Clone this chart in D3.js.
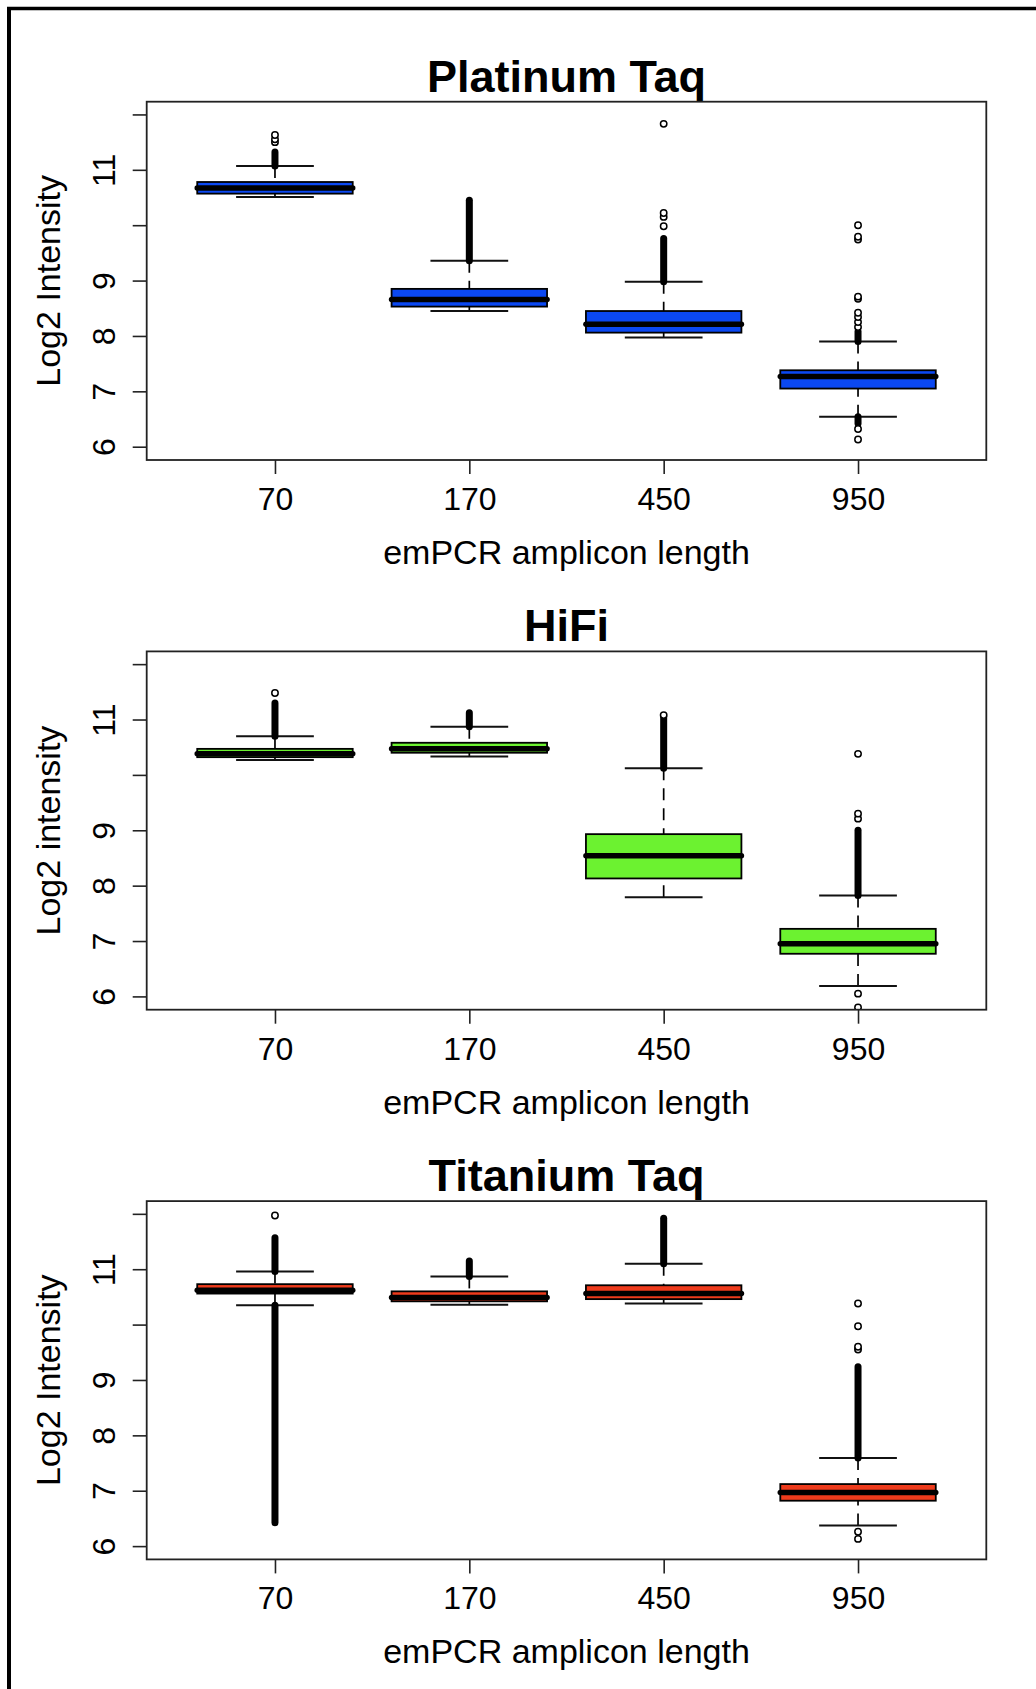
<!DOCTYPE html>
<html>
<head>
<meta charset="utf-8">
<script src="https://cdn.jsdelivr.net/npm/d3@7"></script>
<style>
  body { margin: 0; background: #fff; }
  text { font-family: "Liberation Sans", Arial, Helvetica, sans-serif; fill: #000; }
</style>
</head>
<body>
<div class="canvas"></div>
<script>
// categories and labels
const categories = ['70', '170', '450', '950'];
const panelTitles = ['Platinum Taq', 'HiFi', 'Titanium Taq'];
const yTitles = ['Log2 Intensity', 'Log2 intensity', 'Log2 Intensity'];
const xTitle = 'emPCR amplicon length';
const yTicks = [6, 7, 8, 9, 10, 11, 12];
const yTickLabels = ['6', '7', '8', '9', '', '11', ''];
const boxColors = ['#0b48f2', '#6cf230', '#ee3b1c'];

// box stats per category: [lower whisker, q1, median, q3, upper whisker]
const platinumStats = [
    [10.51, 10.57, 10.67, 10.78, 11.07],
    [8.45, 8.53, 8.66, 8.85, 9.36],
    [7.97, 8.06, 8.21, 8.45, 8.98],
    [6.54, 7.05, 7.27, 7.38, 7.90]
];
const hifiStats = [
    [10.27, 10.32, 10.38, 10.47, 10.70],
    [10.33, 10.40, 10.47, 10.58, 10.87],
    [7.79, 8.13, 8.54, 8.93, 10.12],
    [6.19, 6.77, 6.95, 7.22, 7.82]
];
const titaniumStats = [
    [10.35, 10.56, 10.62, 10.73, 10.96],
    [10.36, 10.42, 10.49, 10.60, 10.87],
    [10.38, 10.46, 10.56, 10.71, 11.10],
    [6.37, 6.82, 6.97, 7.12, 7.59]
];

// outliers so dense they merge into a solid column: [from, to]
const platinumRuns = [[[11.07, 11.32]], [[9.36, 10.45]], [[8.98, 9.76]], [[7.90, 8.08], [6.42, 6.54]]];
const hifiRuns = [[[10.70, 11.30]], [[10.87, 11.12]], [[10.12, 11.05]], [[7.82, 9.00]]];
const titaniumRuns = [[[10.96, 11.57], [6.42, 10.35]], [[10.87, 11.15]], [[11.10, 11.92]], [[7.59, 9.24]]];

// single outliers
const platinumPoints = [
    [11.50, 11.55, 11.63],
    [],
    [9.98, 10.15, 10.22, 11.83],
    [8.16, 8.25, 8.34, 8.42, 8.67, 8.71, 9.74, 9.79, 10.00, 6.32, 6.13]
];
const hifiPoints = [
    [11.48],
    [],
    [11.08],
    [9.21, 9.30, 10.38, 6.05, 5.80]
];
const titaniumPoints = [
    [11.97],
    [],
    [],
    [9.55, 9.60, 9.97, 10.38, 6.26, 6.13]
];

const panels = [
    {stats: platinumStats, runs: platinumRuns, points: platinumPoints},
    {stats: hifiStats, runs: hifiRuns, points: hifiPoints},
    {stats: titaniumStats, runs: titaniumRuns, points: titaniumPoints}
];

const width = 1036, height = 1689;
const plotLeft = 146.7, plotRight = 986.3;
const plotH = 358.3;
const panelTop = [101.7, 651.4, 1201.1];
const plotW = plotRight - plotLeft;
const cx = plotLeft + plotW / 2;

const svg = d3.select('.canvas')
    .append('svg')
    .attr('width', width)
    .attr('height', height);

// outer frame, only top and left edges are in the picture
svg.append('line')
    .attr('x1', 7).attr('x2', width).attr('y1', 8.5).attr('y2', 8.5)
    .attr('stroke', '#000').attr('stroke-width', 3.5);
svg.append('line')
    .attr('x1', 9).attr('x2', 9).attr('y1', 7).attr('y2', height)
    .attr('stroke', '#000').attr('stroke-width', 4);

// scales
const x = d3.scalePoint()
    .domain(categories)
    .range([plotLeft, plotRight])
    .padding(0.66);
const y = d3.scaleLinear()
    .domain([5.76, 12.23])
    .range([plotH, 0]);

const boxW = x.step() * 0.8;
const capW = boxW * 0.5;

svg.append('defs').append('clipPath')
    .attr('id', 'plotclip')
    .append('rect')
    .attr('x', plotLeft).attr('y', 0)
    .attr('width', plotW).attr('height', plotH);

panels.forEach((p, i) => {
    const g = svg.append('g').attr('transform', `translate(0, ${panelTop[i]})`);

    // y axis
    const yAxis = d3.axisLeft(y)
        .tickValues(yTicks)
        .tickSize(14)
        .tickFormat((d, k) => yTickLabels[k]);
    const yG = g.append('g')
        .attr('transform', `translate(${plotLeft}, 0)`)
        .call(yAxis);
    yG.select('.domain').remove();
    yG.selectAll('line').attr('stroke', '#222').attr('stroke-width', 1.6);
    yG.selectAll('text')
        .attr('transform', 'rotate(-90)')
        .attr('x', 0)
        .attr('y', -31.7)
        .attr('dy', 0)
        .attr('text-anchor', 'middle')
        .attr('font-size', 32)
        .attr('fill', '#000');

    // x axis
    const xAxis = d3.axisBottom(x).tickSize(14);
    const xG = g.append('g')
        .attr('transform', `translate(0, ${plotH})`)
        .call(xAxis);
    xG.select('.domain').remove();
    xG.selectAll('line').attr('stroke', '#222').attr('stroke-width', 1.6);
    xG.selectAll('text')
        .attr('y', 50)
        .attr('dy', 0)
        .attr('font-size', 32)
        .attr('fill', '#000');

    // titles
    g.append('text')
        .attr('x', cx).attr('y', -10)
        .attr('text-anchor', 'middle')
        .attr('font-size', 45)
        .attr('font-weight', 'bold')
        .text(panelTitles[i]);
    g.append('text')
        .attr('x', cx).attr('y', plotH + 104)
        .attr('text-anchor', 'middle')
        .attr('font-size', 34)
        .text(xTitle);
    g.append('text')
        .attr('transform', `translate(60, ${plotH / 2}) rotate(-90)`)
        .attr('text-anchor', 'middle')
        .attr('font-size', 34)
        .text(yTitles[i]);

    const body = g.append('g').attr('clip-path', 'url(#plotclip)');

    const boxes = body.selectAll('g.box')
        .data(p.stats)
        .enter()
        .append('g')
        .attr('class', 'box')
        .attr('transform', (d, k) => `translate(${x(categories[k])}, 0)`);

    // dashed whiskers
    boxes.append('line')
        .attr('y1', d => y(d[4])).attr('y2', d => y(d[3]))
        .attr('stroke', '#000').attr('stroke-width', 1.7)
        .attr('stroke-dasharray', '12,8');
    boxes.append('line')
        .attr('y1', d => y(d[0])).attr('y2', d => y(d[1]))
        .attr('stroke', '#000').attr('stroke-width', 1.7)
        .attr('stroke-dasharray', '12,8');

    // staples
    boxes.selectAll('line.staple')
        .data(d => [d[0], d[4]])
        .enter()
        .append('line')
        .attr('class', 'staple')
        .attr('x1', -capW / 2).attr('x2', capW / 2)
        .attr('y1', d => y(d)).attr('y2', d => y(d))
        .attr('stroke', '#111').attr('stroke-width', 2);

    // box
    boxes.append('rect')
        .attr('x', -boxW / 2)
        .attr('width', boxW)
        .attr('y', d => y(d[3]))
        .attr('height', d => y(d[1]) - y(d[3]))
        .attr('fill', boxColors[i])
        .attr('stroke', '#000')
        .attr('stroke-width', 1.8);

    // median
    boxes.append('line')
        .attr('x1', -boxW / 2).attr('x2', boxW / 2)
        .attr('y1', d => y(d[2])).attr('y2', d => y(d[2]))
        .attr('stroke', '#000')
        .attr('stroke-width', 5.5)
        .attr('stroke-linecap', 'round');

    // dense outlier columns
    p.runs.forEach((runs, k) => {
        body.selectAll(null)
            .data(runs)
            .enter()
            .append('line')
            .attr('x1', x(categories[k])).attr('x2', x(categories[k]))
            .attr('y1', d => y(d[0])).attr('y2', d => y(d[1]))
            .attr('stroke', '#000')
            .attr('stroke-width', 7)
            .attr('stroke-linecap', 'round');
    });

    // single outliers
    p.points.forEach((pts, k) => {
        body.selectAll(null)
            .data(pts)
            .enter()
            .append('circle')
            .attr('cx', x(categories[k]))
            .attr('cy', d => y(d))
            .attr('r', 3.2)
            .attr('fill', '#fff')
            .attr('stroke', '#000')
            .attr('stroke-width', 1.5);
    });

    // plot frame
    g.append('rect')
        .attr('x', plotLeft).attr('y', 0)
        .attr('width', plotW).attr('height', plotH)
        .attr('fill', 'none')
        .attr('stroke', '#222')
        .attr('stroke-width', 1.8);
});
</script>
</body>
</html>
